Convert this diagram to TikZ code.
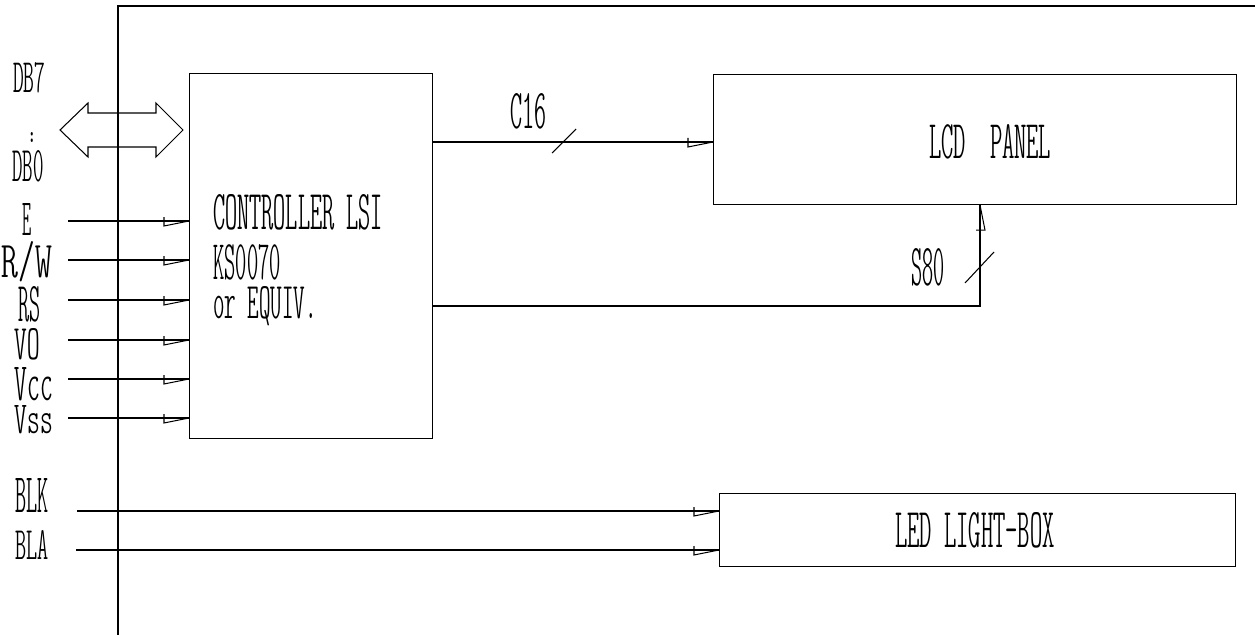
\documentclass[tikz,border=0pt]{standalone}
\usepackage{graphicx}
\usetikzlibrary{calc, positioning}

\newlength{\px}
\setlength{\px}{0.02cm}
% thin condensed mono, stretched to the measured width and cap height
\newcommand{\cad}[3]{\resizebox{#1\px}{#2\px}{\fontfamily{lmtt}\fontseries{lc}\fontshape{n}\selectfont #3}}

\begin{document}
\begin{tikzpicture}[
      x=0.02cm, y=-0.02cm, line width=0.6pt,
      box/.style={draw, anchor=north west, inner sep=0pt},
      txt/.style={inner sep=0pt},
      halftip/.pic={\draw (-25,-4) -- (-25,5) -- (0,0);}
    ]
    \useasboundingbox (0,0) rectangle (1255,635);

    % frame of the module
    \draw (118,635) -- (118,6) -- (1255,6);

    % blocks
    \node[box, minimum width=4.86cm, minimum height=7.3cm] (ctrl) at (189,73) {};
    \node[box, minimum width=10.46cm, minimum height=2.6cm] (lcd) at (713,74) {};
    \node[box, minimum width=10.32cm, minimum height=1.46cm] (led) at (719,493) {};

    \node[txt, anchor=west] (ctrlA) at (213,212) {\cad{169}{35}{CONTROLLER LSI}};
    \node[txt, anchor=west] (ctrlB) at (213,262) {\cad{67}{35}{KS0070}};
    \node[txt, anchor=west] (ctrlC) at (213,306) {\cad{103}{32}{or EQUIV.}};
    \node[txt] (lcdtxt) at (990,142) {\cad{122}{34}{LCD~~PANEL}};
    \node[txt] (ledtxt) at (975,530) {\cad{159}{35}{LED LIGHT-BOX}};

    % data bus
    \node[txt] (db7) at (29,78) {\cad{32}{30}{DB7}};
    \node[txt] (dbdots) at (32,138) {\resizebox{4\px}{10\px}{\fontseries{b}\selectfont :}};
    \node[txt] (db0) at (28,166) {\cad{31}{31}{DB0}};
    \draw (60,130) -- (88,103) -- (88,113) -- (156,113) -- (156,103)
      -- (183,130) -- (156,157) -- (156,147) -- (88,147) -- (88,157) -- cycle;

    % control and power inputs
    \node[txt] (e)   at (27,219) {\cad{9}{32}{E}};
    \node[txt] (rw)  at (27,262) {\cad{50}{36}{R/W}};
    \node[txt] (rs)  at (29,304) {\cad{22}{35}{RS}};
    \node[txt] (vo)  at (27,344) {\cad{25}{31}{VO}};
    \node[txt] (vcc) at (34,384) {\cad{38}{33}{Vcc}};
    \node[txt] (vss) at (34,420) {\cad{38}{28}{Vss}};

    \coordinate (inE)   at (68,221);
    \coordinate (inRW)  at (68,260);
    \coordinate (inRS)  at (68,300);
    \coordinate (inVO)  at (68,340);
    \coordinate (inVcc) at (68,379);
    \coordinate (inVss) at (68,418);
    \draw (inE)   -- (inE -| ctrl.west)   pic {halftip};
    \draw (inRW)  -- (inRW -| ctrl.west)  pic {halftip};
    \draw (inRS)  -- (inRS -| ctrl.west)  pic {halftip};
    \draw (inVO)  -- (inVO -| ctrl.west)  pic {halftip};
    \draw (inVcc) -- (inVcc -| ctrl.west) pic {halftip};
    \draw (inVss) -- (inVss -| ctrl.west) pic {halftip};

    % common and segment drivers
    \coordinate (com) at (ctrl.east |- 0,142);
    \draw (com) -- (com -| lcd.west) pic {halftip};
    \draw (552,153) -- (576,129);
    \node[txt] (c16) at (528,111) {\cad{36}{35}{C16}};

    \coordinate (seg) at (ctrl.east |- 0,306);
    \draw (seg) -- (seg -| 980,0) -- (lcd.south -| 980,0) pic[rotate=90] {halftip};
    \draw (965,283) -- (994,252);
    \node[txt] (s80) at (928,267) {\cad{33}{37}{S80}};

    % backlight
    \node[txt] (blk) at (32,495) {\cad{33}{34}{BLK}};
    \node[txt] (bla) at (32,545) {\cad{33}{29}{BLA}};
    \coordinate (inBLK) at (77,511);
    \coordinate (inBLA) at (76,550);
    \draw (inBLK) -- (inBLK -| led.west) pic {halftip};
    \draw (inBLA) -- (inBLA -| led.west) pic {halftip};
    \draw[line width=1pt] (192,511) -- (298,511);
  \end{tikzpicture}
\end{document}
